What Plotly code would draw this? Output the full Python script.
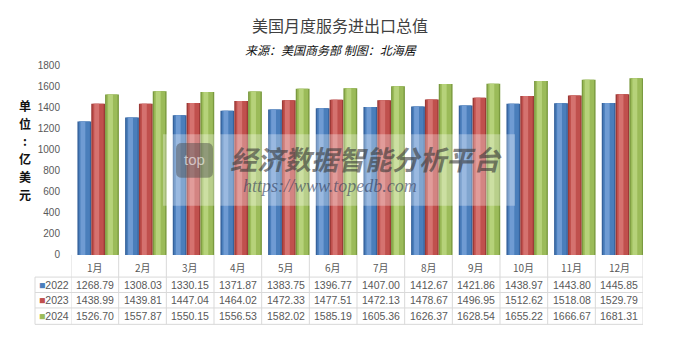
import plotly.graph_objects as go

months = ["1月", "2月", "3月", "4月", "5月", "6月", "7月", "8月", "9月", "10月", "11月", "12月"]
years = ["2022", "2023", "2024"]
v2022 = [1268.79, 1308.03, 1330.15, 1371.87, 1383.75, 1396.77, 1407.00, 1412.67, 1421.86, 1438.97, 1443.80, 1445.85]
v2023 = [1438.99, 1439.81, 1447.04, 1464.02, 1472.33, 1477.51, 1472.13, 1478.67, 1496.95, 1512.62, 1518.08, 1529.79]
v2024 = [1526.70, 1557.87, 1550.15, 1556.53, 1582.02, 1585.19, 1605.36, 1626.37, 1628.54, 1655.22, 1666.67, 1681.31]
yticks = [0, 200, 400, 600, 800, 1000, 1200, 1400, 1600, 1800]
unit_chars = ["单", "位", ":", "亿", "美", "元"]

series = [v2022, v2023, v2024]
# (edge, body, highlight)
palettes = [("#36629C", "#4A7EBB", "#6F9BD3"),
            ("#9C3A37", "#C0504D", "#D5726F"),
            ("#7A9A3F", "#9BBB59", "#B6D27A")]
W, H = 680, 340
X0, X1 = 71, 643
def px(x):
    return x / W
def py(y):
    return 1 - y / H

fig = go.Figure()
xs = list(range(len(months)))
bw = 0.29
starts = [-0.365, -0.075, 0.215]
for s, vals in enumerate(series):
    edge, body, hi = palettes[s]
    layers = [(0.0, 1.0, edge), (0.1, 0.8, body), (0.22, 0.35, hi)]
    for (o, f, c) in layers:
        fig.add_trace(go.Bar(x=xs, y=vals, width=bw * f, offset=starts[s] + bw * o,
                             marker=dict(color=c, line=dict(width=0)),
                             showlegend=False, name=years[s]))

def A(text, x, y, size, color, family="Noto Sans CJK SC", xref="paper", xanchor="center"):
    return dict(text=text, x=x, y=y, xref=xref, yref="paper", xanchor=xanchor, yanchor="middle",
                showarrow=False, font=dict(family=family, size=size, color=color))

ann = []
ann.append(A("美国月度服务进出口总值", 0.5, py(20), 16, "#404040"))
ann.append(A("<i>来源：美国商务部 制图：北海居</i>", px(331), py(45), 12, "#111111"))
for k, ch in enumerate(unit_chars):
    ann.append(A(f"<b>{ch}</b>", px(25), py(103 + 18.4 * k), 12, "#111111"))

# watermark
shapes = []
shapes.append(dict(type="rect", xref="paper", yref="paper", x0=px(163), x1=px(515), y0=py(207), y1=py(133),
                   fillcolor="rgba(255,255,255,0.3)", line=dict(width=0), layer="above"))
shapes.append(dict(type="path", xref="paper", yref="paper",
                   path=(f"M {px(182)},{py(142)} L {px(207)},{py(142)} Q {px(213)},{py(142)} {px(213)},{py(148)} "
                         f"L {px(213)},{py(172)} Q {px(213)},{py(178)} {px(207)},{py(178)} "
                         f"L {px(182)},{py(178)} Q {px(176)},{py(178)} {px(176)},{py(172)} "
                         f"L {px(176)},{py(148)} Q {px(176)},{py(142)} {px(182)},{py(142)} Z"),
                   fillcolor="rgba(70,70,70,0.45)", line=dict(width=0), layer="above"))
ann.append(A("top", px(194.5), py(159), 15, "rgba(255,255,255,0.6)", family="Liberation Sans"))
ann.append(A("<b><i>经济数据智能分析平台</i></b>", px(366), py(158), 27, "rgba(55,55,55,0.6)"))
ann.append(A("<i>https://www.topedb.com</i>", px(330), py(187), 18, "rgba(45,55,85,0.6)", family="Liberation Serif"))

# data table
grid = "#D9D9D9"
tcol = "#595959"
row_y = [289, 305, 321]
for i, m in enumerate(months):
    ann.append(A(m, i, py(271), 10, tcol, xref="x"))
    for r, vals in enumerate(series):
        ann.append(A(f"{vals[i]:.2f}", i, py(row_y[r]), 10.5, tcol, family="Liberation Sans", xref="x"))
for r, yr in enumerate(years):
    ann.append(A(f"<span style='color:{palettes[r][1]}'>■</span>{yr}", px(37), py(row_y[r]), 10.5, tcol,
                 family="Liberation Sans", xanchor="left"))
for yl in [281, 297, 313, 330]:
    shapes.append(dict(type="line", xref="paper", yref="paper", x0=px(35), x1=px(X1), y0=py(yl), y1=py(yl),
                       line=dict(color=grid, width=1)))
shapes.append(dict(type="line", xref="paper", yref="paper", x0=px(35), x1=px(35), y0=py(281), y1=py(330),
                   line=dict(color=grid, width=1)))
for i in range(len(months) + 1):
    shapes.append(dict(type="line", xref="x", yref="paper", x0=i - 0.5, x1=i - 0.5, y0=py(258), y1=py(330),
                       line=dict(color=grid, width=1)))

fig.update_layout(
    width=W, height=H, margin=dict(l=0, r=0, t=0, b=0),
    paper_bgcolor="white", plot_bgcolor="white",
    barmode="overlay",
    xaxis=dict(domain=[px(X0), px(X1)], range=[-0.5, 11.5], showticklabels=False, showgrid=False,
               zeroline=False, showline=False, fixedrange=True),
    yaxis=dict(domain=[py(258), py(62)], range=[0, 1800], tickvals=yticks, showgrid=False, zeroline=False,
               showline=False, ticks="", ticklabelstandoff=10,
               tickfont=dict(family="Liberation Sans", size=10, color=tcol)),
    annotations=ann, shapes=shapes, showlegend=False,
)
fig.write_html("out.html")
